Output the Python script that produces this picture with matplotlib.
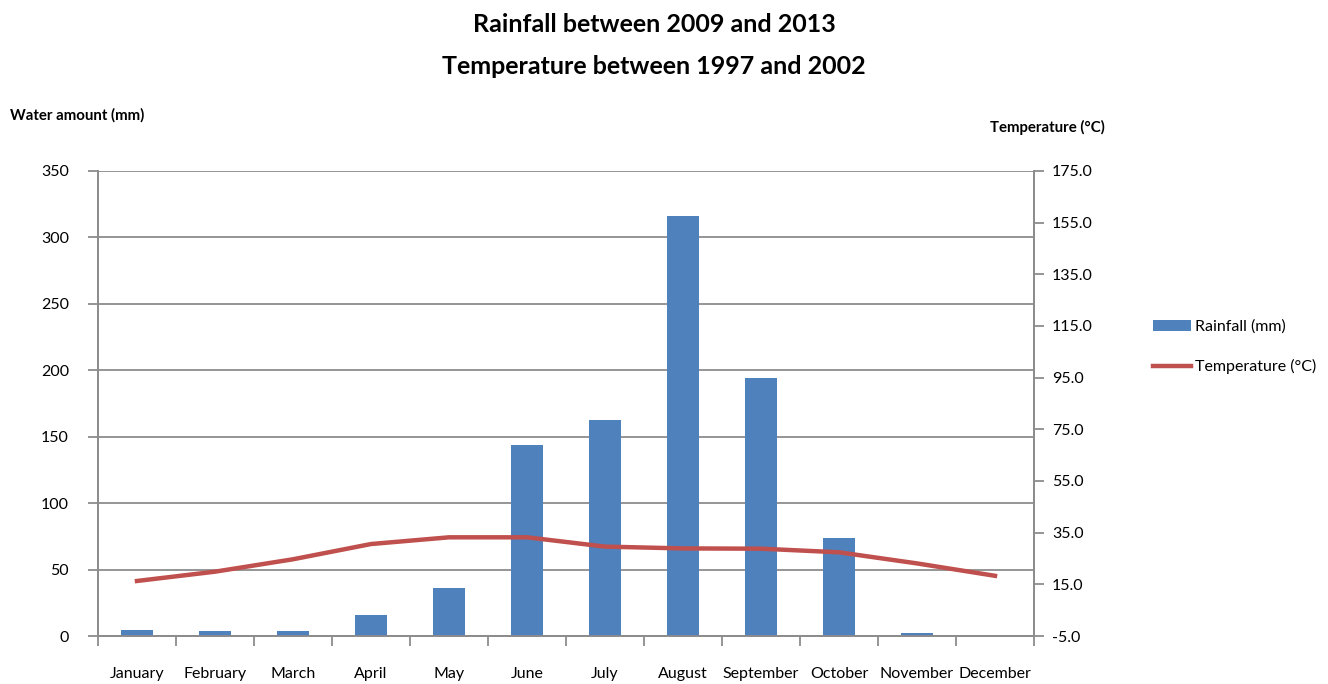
import matplotlib
matplotlib.use("Agg")
import matplotlib.pyplot as plt
from matplotlib.patches import Patch
from matplotlib.lines import Line2D
import numpy as np

plt.rcParams['font.family'] = ['Lato', 'DejaVu Sans']

months = ["January", "February", "March", "April", "May", "June", "July",
          "August", "September", "October", "November", "December"]
rainfall = [4.5, 3.8, 3.8, 15.8, 36.1, 143.7, 162.5, 316.0, 194.0, 73.8, 2.3, 0.0]
temperature = [16.3, 19.9, 24.7, 30.6, 33.2, 33.2, 29.6, 28.9, 28.8, 27.4, 23.1, 18.3]
left_ticks = [0, 50, 100, 150, 200, 250, 300, 350]
right_ticks = [-5, 15, 35, 55, 75, 95, 115, 135, 155, 175]

bar_color = "#4F81BD"
line_color = "#C0504D"
grid_color = "#8C8C8C"

fig = plt.figure(figsize=(13.28, 6.84), dpi=100)
ax = fig.add_axes([98/1328, 48/684, (1034-98)/1328, (636-171)/684])
x = np.arange(len(months))
ax.bar(x, rainfall, width=0.41, color=bar_color, zorder=3)
ax.set_xlim(-0.5, len(months)-0.5)
ax.set_ylim(0, 350)
ax.set_yticks(left_ticks)
ax.set_yticklabels([str(t) for t in left_ticks], fontsize=11.5)
ax.yaxis.grid(True, color=grid_color, linewidth=1.3, zorder=0)
ax.set_axisbelow(True)
ax.set_xticks(x)
ax.set_xticklabels(months, fontsize=11.5)
ax.set_xticks(np.arange(-0.5, len(months), 1.0), minor=True)
ax.tick_params(axis='x', which='major', length=0, pad=22)
ax.tick_params(axis='x', which='minor', length=7, color=grid_color, width=1.3)
ax.tick_params(axis='y', length=7, color=grid_color, width=1.3, pad=14)
ax.spines['top'].set_visible(False)
for s in ['left', 'bottom', 'right']:
    ax.spines[s].set_color(grid_color)
    ax.spines[s].set_linewidth(1.3)

ax2 = ax.twinx()
ax2.plot(x, temperature, color=line_color, linewidth=3.2, zorder=4)
ax2.set_ylim(-5, 175)
ax2.set_yticks(right_ticks)
ax2.set_yticklabels([f"{t:.1f}" for t in right_ticks], fontsize=11.5)
ax2.tick_params(axis='y', length=7, color=grid_color, width=1.3, pad=6)
ax2.spines['top'].set_visible(False)
for s in ['left', 'bottom', 'right']:
    ax2.spines[s].set_color(grid_color)
    ax2.spines[s].set_linewidth(1.3)

fig.text(654/1328, 1-25/684, "Rainfall between 2009 and 2013", ha='center', va='center',
         fontsize=18, fontweight='bold')
fig.text(654/1328, 1-67/684, "Temperature between 1997 and 2002", ha='center', va='center',
         fontsize=18, fontweight='bold')
fig.text(10/1328, 1-115/684, "Water amount (mm)", ha='left', va='center',
         fontsize=10.8, fontweight='bold')
fig.text(990/1328, 1-127/684, "Temperature (°C)", ha='left', va='center',
         fontsize=10.8, fontweight='bold')

handles = [Patch(facecolor=bar_color, edgecolor='none'),
           Line2D([0], [0], color=line_color, linewidth=3.2)]
fig.legend(handles, ["Rainfall (mm)", "Temperature (°C)"], loc='center left',
           bbox_to_anchor=(1153/1328, 1-347/684), frameon=False, fontsize=11.5,
           handlelength=2.4, handletextpad=0.25, labelspacing=1.6,
           borderaxespad=0, borderpad=0)

fig.savefig("out.png", dpi=100)
